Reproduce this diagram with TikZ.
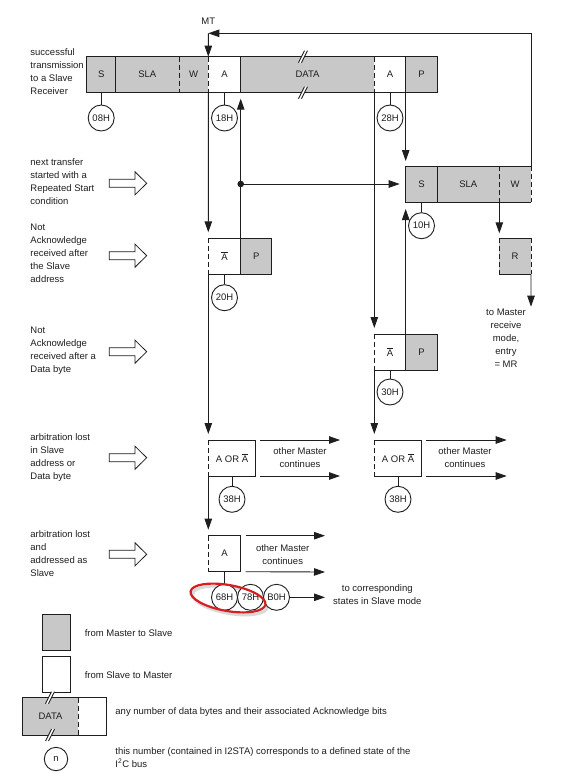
\documentclass[tikz,border=0pt]{standalone}
\usepackage{fontspec}
\setmainfont{Liberation Sans}
\usetikzlibrary{arrows.meta}
\definecolor{boxgray}{RGB}{200,200,200}
\definecolor{ink}{RGB}{30,30,30}
\definecolor{circred}{RGB}{215,30,35}
\newcommand{\fsz}{\fontsize{9.5}{13}\selectfont}
\newcommand{\nA}{$\overline{\hbox{A}}$}
\newcommand{\brkmark}[2]{%
  \fill[white] (#1-4.5,#2+6) -- (#1-1.5,#2+6) -- (#1+4.5,#2-6) -- (#1+1.5,#2-6) -- cycle;
  \draw (#1-4.5,#2+6) -- (#1+1.5,#2-6);
  \draw (#1-1.5,#2+6) -- (#1+4.5,#2-6);}
\tikzset{
  cell/.style={anchor=north west, inner sep=0pt, outer sep=0pt, minimum height=36pt},
  gcell/.style={cell, fill=boxgray},
  wcell/.style={cell, fill=white},
  dsh/.style={dash pattern=on 5pt off 3pt},
  arr/.style={-{Triangle[length=11pt,width=7.5pt]}},
  stnode/.style={circle, draw, fill=white, minimum size=26pt, inner sep=0pt},
  txt/.style={inner sep=0pt, execute at begin node=\strut},
  lblock/.style={txt, anchor=north west, align=left},
  cblock/.style={txt, anchor=north, align=center},
  hollowarrow/.pic={\draw[line width=0.8pt, fill=white] (-18.7,-4) -- (7,-4) -- (7,-11.5) -- (18.7,0) -- (7,11.5) -- (7,4) -- (-18.7,4) -- cycle;}
}
\begin{document}
\begin{tikzpicture}[x=1pt, y=-1pt, line width=0.9pt, color=ink, every node/.style={font=\fsz}]
\useasboundingbox (0,0) rectangle (587,773);

% ---------- left labels ----------
\node[lblock] (l0) at (30,48.3) {successful\\transmission\\to a Slave\\Receiver};
\node[lblock] (l1) at (30,158.3) {next transfer\\started with a\\Repeated Start\\condition};
\node[lblock] (l2) at (30,223.3) {Not\\Acknowledge\\received after\\the Slave\\address};
\node[lblock] (l3) at (30,326.3) {Not\\Acknowledge\\received after a\\Data byte};
\node[lblock] (l4) at (30,433.3) {arbitration lost\\in Slave\\address or\\Data byte};
\node[lblock] (l5) at (30,529.7) {arbitration lost\\and\\addressed as\\Slave};
\pic at (128,183.3) {hollowarrow};
\pic at (128,255.7) {hollowarrow};
\pic at (128,351.7) {hollowarrow};
\pic at (128,457.7) {hollowarrow};
\pic at (128,554.3) {hollowarrow};

% ---------- top row ----------
\node[gcell, minimum width=29pt]    (tS)   at (86.7,56.7)  {S};
\node[gcell, minimum width=63.3pt]  (tSLA) at (115.7,56.7) {SLA};
\node[gcell, minimum width=29.3pt]  (tW)   at (179,56.7)   {W};
\node[wcell, minimum width=32.4pt]  (tA)   at (208.3,56.7) {A};
\node[gcell, minimum width=133.6pt] (tD)   at (240.7,56.7) {DATA};
\node[wcell, minimum width=31.4pt]  (tA2)  at (374.3,56.7) {A};
\node[gcell, minimum width=31.6pt]  (tP)   at (405.7,56.7) {P};
\draw (tS.north west) rectangle (tP.south east);
\draw (tS.north east) -- (tS.south east);
\draw[dsh] (tSLA.north east) -- (tSLA.south east);
\draw[dsh] (tW.north east) -- (tW.south east);
\draw (tA.north east) -- (tA.south east);
\draw[dsh] (tD.north east) -- (tD.south east);
\draw (tA2.north east) -- (tA2.south east);
\brkmark{303}{56.7}
\brkmark{303}{92.7}

% ---------- second S SLA W ----------
\node[gcell, minimum width=31.6pt] (mS)   at (405.7,166) {S};
\node[gcell, minimum width=62pt]   (mSLA) at (437.3,166) {SLA};
\node[gcell, minimum width=31.7pt] (mW)   at (499.3,166) {W};
\draw (mW.north east) -- (mS.north west) -- (mS.south west) -- (mW.south east);
\draw (mS.north east) -- (mS.south east);
\draw[dsh] (mSLA.north east) -- (mSLA.south east);
\draw[dsh] (mW.north east) -- (mW.south east);

% ---------- R ----------
\node[gcell, minimum width=31.7pt] (R) at (499.3,238.3) {R};
\draw (R.north west) -- (R.north east) (R.south west) -- (R.south east);
\draw[dsh] (R.north west) -- (R.south west) (R.north east) -- (R.south east);

% ---------- Abar P (slave address) ----------
\node[wcell, minimum width=32.4pt] (nA1) at (208.3,238.3) {\nA};
\node[gcell, minimum width=31pt]   (nP1) at (240.7,238.3) {P};
\draw (nA1.north west) -- (nP1.north east) -- (nP1.south east) -- (nA1.south west);
\draw (nA1.north east) -- (nA1.south east);
\draw[dsh] (nA1.north west) -- (nA1.south west);

% ---------- Abar P (data byte) ----------
\node[wcell, minimum width=31.4pt] (nA2) at (374.3,334) {\nA};
\node[gcell, minimum width=31.6pt] (nP2) at (405.7,334) {P};
\draw (nA2.north west) -- (nP2.north east) -- (nP2.south east) -- (nA2.south west);
\draw (nA2.north east) -- (nA2.south east);
\draw[dsh] (nA2.north west) -- (nA2.south west);

% ---------- A OR Abar ----------
\node[wcell, minimum width=47.4pt] (lo1) at (208.3,440) {A OR \nA};
\draw (lo1.north west) -- (lo1.north east) -- (lo1.south east) -- (lo1.south west);
\draw[dsh] (lo1.north west) -- (lo1.south west);
\node[wcell, minimum width=47.4pt] (lo2) at (374.3,440) {A OR \nA};
\draw (lo2.north west) -- (lo2.north east) -- (lo2.south east) -- (lo2.south west);
\draw[dsh] (lo2.north west) -- (lo2.south west);

% ---------- A (addressed as slave) ----------
\node[wcell, minimum width=32.4pt] (as) at (208.3,535.7) {A};
\draw (as.north west) -- (as.north east) -- (as.south east) -- (as.south west);
\draw[dsh] (as.north west) -- (as.south west);

% ---------- red ellipse shadow ----------
\draw[black!25, line width=3pt, opacity=0.6, rotate around={-10:(230,600.5)}] (230,600.5) ellipse (38 and 13);

% ---------- state circles ----------
\node[stnode] (s08) at (101.2,118) {08H};
\node[stnode] (s18) at (224.5,118) {18H};
\node[stnode] (s28) at (390,118) {28H};
\node[stnode] (s10) at (421.5,225.7) {10H};
\node[stnode] (s20) at (224.5,297.7) {20H};
\node[stnode] (s30) at (390,392) {30H};
\node[stnode] (s38a) at (232,499.3) {38H};
\node[stnode] (s38b) at (398,499.3) {38H};
\node[stnode] (s68) at (224.5,597.3) {68H};
\node[stnode] (s78) at (250.5,597.3) {78H};
\node[stnode] (sB0) at (276.5,597.3) {B0H};

\draw (tS.south) -- (s08);
\draw (tA.south) -- (s18);
\draw (tA2.south) -- (s28);
\draw (mS.south) -- (s10);
\draw (nA1.south) -- (s20);
\draw (nA2.south) -- (s30);
\draw (lo1.south) -- (s38a);
\draw (lo2.south) -- (s38b);
\draw (as.south) -- (s68);

% ---------- red ellipse ----------
\draw[circred, line width=2.2pt, rotate around={-10:(228,598)}] (228,598) ellipse (38 and 13);

% ---------- MT loop ----------
\node (mt) at (208.3,21.7) {MT};
\coordinate (mtc) at (208.3,33.3);
\draw[arr] (mW.north east) |- (mtc);
\draw[arr] (mtc) -- (tW.north east);

% ---------- vertical flow ----------
\draw[arr, shorten >=6pt] (tW.south east) -- (nA1.north west);
\draw[arr, shorten >=6pt] (nP1.north west) -- (tA.south east);
\coordinate (dot) at (nP1.north west |- mS.west);
\fill (dot) circle (3.3pt);
\draw[arr, shorten >=6pt] (dot) -- (mS.west);
\draw[arr, shorten >=6pt] (nA1.south west) -- (lo1.north west);
\draw[arr, shorten >=6pt] (lo1.south west) -- (as.north west);
\draw[arr, shorten >=6pt] (tD.south east) -- (nA2.north west);
\draw[arr, shorten >=6pt] (nA2.south west) -- (lo2.north west);
\draw[arr, shorten >=5pt] (tP.south west) -- (mS.north west);
\draw[arr, shorten >=7pt] (nP2.north west) -- (mS.south west);
\draw[arr, shorten >=5pt] (mW.south west) -- (R.north west);
\coordinate (mrtip) at (531,306.7);
\draw[arr] (R.south east) -- (mrtip);
\node[cblock] (mr) at (506,308.3) {to Master\\receive\\mode,\\entry\\= MR};

% ---------- other Master continues ----------
\coordinate (o1t) at (340,440);
\coordinate (o1b) at (340,476);
\draw[arr] ([xshift=4pt]lo1.north east) -- (o1t);
\draw[arr] ([xshift=4pt]lo1.south east) -- (o1b);
\node[cblock] (om1) at (300,446.7) {other Master\\continues};
\coordinate (o2t) at (506.7,440);
\coordinate (o2b) at (506.7,476);
\draw[arr] ([xshift=4pt]lo2.north east) -- (o2t);
\draw[arr] ([xshift=4pt]lo2.south east) -- (o2b);
\node[cblock] (om2) at (465,446.7) {other Master\\continues};
\coordinate (o3t) at (325,535.7);
\coordinate (o3b) at (325,572);
\draw[arr] ([xshift=5pt]as.north east) -- (o3t);
\draw[arr] ([xshift=5pt]as.south east) -- (o3b);
\node[cblock] (om3) at (282.7,544) {other Master\\continues};
\coordinate (tc) at (325,597.3);
\draw[arr] (sB0.east) -- (tc);
\node[cblock] (tcs) at (377.3,584) {to corresponding\\states in Slave mode};

% ---------- legend ----------
\node[gcell, draw, minimum width=28pt, minimum height=36.3pt] (lg1) at (42.3,614) {};
\node[lblock] (lg1t) at (84.3,626.7) {from Master to Slave};
\node[wcell, draw, minimum width=28pt, minimum height=36.3pt] (lg2) at (42.3,656) {};
\node[lblock] (lg2t) at (84.3,668.7) {from Slave to Master};
\node[gcell, minimum width=55.6pt, minimum height=37.3pt] (lgD) at (22.7,697.7) {DATA};
\node[wcell, minimum width=28.4pt, minimum height=37.3pt] (lgA) at (78.3,697.7) {};
\draw (lgD.north west) rectangle (lgA.south east);
\draw[dsh] (lgD.north east) -- (lgD.south east);
\brkmark{50}{697.7}
\brkmark{50}{735}
\node[lblock] (lgDt) at (115,704.7) {any number of data bytes and their associated Acknowledge bits};
\node[stnode, minimum size=23.4pt] (lgn) at (56,759) {n};
\node[lblock] (lgnt) at (115,746.7) {this number (contained in I2STA) corresponds to a defined state of the\\I\textsuperscript{2}C bus};
\end{tikzpicture}
\end{document}
